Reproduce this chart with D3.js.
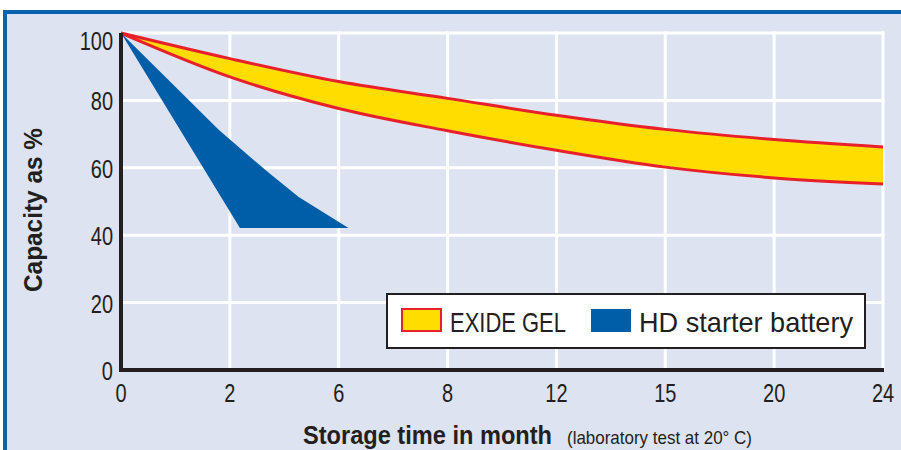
<!DOCTYPE html>
<html>
<head>
<meta charset="utf-8">
<script src="https://cdn.jsdelivr.net/npm/d3@7"></script>
<style>
  body { margin: 0; background: #fff; }
  text { font-family: "Liberation Sans", Arial, sans-serif; fill: #231f20; }
</style>
</head>
<body>
<script>
// x tick labels (months), evenly spaced on the chart
const monthTicks = [0, 2, 6, 8, 12, 15, 20, 24];
const capTicks = [0, 20, 40, 60, 80, 100];

// EXIDE GEL band: upper and lower edge (month, capacity %)
const gelMonths = [0, 2, 6, 8, 12, 15, 20, 24];
const gelUpper = [100, 92.4, 85.6, 80.6, 75.6, 71.4, 68.4, 66.2];
const gelLower = [100, 87, 77.6, 71, 65.2, 60.2, 57, 55.2];

// HD starter battery wedge, outline points (month, capacity %)
const hdMonths = [0, 2, 2.37, 6.18, 4.53, 3.43, 1.8, 0];
const hdValues = [100, 47, 42.1, 42.1, 51.3, 58.5, 71.2, 100];

const legendNames = ["EXIDE GEL", "HD starter battery"];

const width = 901, height = 450;
const plotL = 121, plotR = 883, plotT = 33, plotB = 370;
const narrow = 0.8;   // condensed look for the labels

const svg = d3.select("body").append("svg")
    .attr("width", width)
    .attr("height", height);

// background + blue frame
svg.append("rect")
    .attr("x", 5).attr("y", 12)
    .attr("width", width).attr("height", height)
    .attr("fill", "#dde3f0")
    .attr("stroke", "#0862ad")
    .attr("stroke-width", 4);

const step = (plotR - plotL) / (monthTicks.length - 1);
const x = d3.scaleLinear()
    .domain(monthTicks)
    .range(monthTicks.map((d, i) => plotL + i * step));

const y = d3.scaleLinear()
    .domain([0, 100])
    .range([plotB, plotT]);

// grid
svg.append("g")
    .selectAll("line")
    .data(monthTicks.slice(1))
    .join("line")
    .attr("x1", d => x(d)).attr("x2", d => x(d))
    .attr("y1", plotT - 1.5).attr("y2", plotB)
    .attr("stroke", "#fff")
    .attr("stroke-width", 3);

svg.append("g")
    .selectAll("line")
    .data(capTicks.slice(1))
    .join("line")
    .attr("x1", plotL).attr("x2", plotR + 1.5)
    .attr("y1", d => y(d)).attr("y2", d => y(d))
    .attr("stroke", "#fff")
    .attr("stroke-width", 3);

// EXIDE GEL band
const gel = gelMonths.map((m, i) => ({ m: m, hi: gelUpper[i], lo: gelLower[i] }));

svg.append("path")
    .datum(gel)
    .attr("fill", "#ffdd00")
    .attr("d", d3.area()
        .x(d => x(d.m))
        .y0(d => y(d.lo))
        .y1(d => y(d.hi))
        .curve(d3.curveMonotoneX));

const edge = d3.line().curve(d3.curveMonotoneX);
svg.append("path")
    .datum(gel)
    .attr("fill", "none")
    .attr("stroke", "#e8202a")
    .attr("stroke-width", 3)
    .attr("d", edge.x(d => x(d.m)).y(d => y(d.hi)));

svg.append("path")
    .datum(gel)
    .attr("fill", "none")
    .attr("stroke", "#e8202a")
    .attr("stroke-width", 3)
    .attr("d", edge.x(d => x(d.m)).y(d => y(d.lo)));

// HD starter battery wedge
svg.append("path")
    .datum(hdMonths.map((m, i) => [m, hdValues[i]]))
    .attr("fill", "#005ea8")
    .attr("d", d3.line()
        .x(d => x(d[0]))
        .y(d => y(d[1]))
        .curve(d3.curveLinearClosed));

// axes
svg.append("line")
    .attr("x1", plotL).attr("x2", plotL)
    .attr("y1", plotT).attr("y2", plotB + 2)
    .attr("stroke", "#231f20")
    .attr("stroke-width", 4);

svg.append("line")
    .attr("x1", plotL - 2).attr("x2", plotR + 1)
    .attr("y1", plotB).attr("y2", plotB)
    .attr("stroke", "#231f20")
    .attr("stroke-width", 4);

svg.append("g")
    .selectAll("text")
    .data(capTicks)
    .join("text")
    .attr("transform", d => `translate(${plotL - 8},${Math.max(y(d) + 10, plotT + 17)}) scale(${narrow},1)`)
    .attr("text-anchor", "end")
    .attr("font-size", 25)
    .text(d => d);

svg.append("g")
    .selectAll("text")
    .data(monthTicks)
    .join("text")
    .attr("transform", d => `translate(${x(d)},402) scale(${narrow},1)`)
    .attr("text-anchor", "middle")
    .attr("font-size", 25)
    .text(d => d);

// titles
svg.append("text")
    .attr("transform", "translate(42,210) rotate(-90)")
    .attr("text-anchor", "middle")
    .attr("font-size", 26)
    .attr("font-weight", "bold")
    .attr("textLength", 164)
    .attr("lengthAdjust", "spacingAndGlyphs")
    .text("Capacity as %");

svg.append("text")
    .attr("x", 303)
    .attr("y", 444)
    .attr("font-size", 26)
    .attr("font-weight", "bold")
    .attr("textLength", 249)
    .attr("lengthAdjust", "spacingAndGlyphs")
    .text("Storage time in month");

svg.append("text")
    .attr("x", 567)
    .attr("y", 444)
    .attr("font-size", 19)
    .attr("textLength", 185)
    .attr("lengthAdjust", "spacingAndGlyphs")
    .text("(laboratory test at 20° C)");

// legend
const lg = svg.append("g");
lg.append("rect")
    .attr("x", 387).attr("y", 294)
    .attr("width", 478).attr("height", 54)
    .attr("fill", "#fff")
    .attr("stroke", "#231f20")
    .attr("stroke-width", 2);

lg.append("rect")
    .attr("x", 402).attr("y", 309)
    .attr("width", 39).attr("height", 22)
    .attr("fill", "#ffdd00")
    .attr("stroke", "#e8202a")
    .attr("stroke-width", 2);

lg.append("rect")
    .attr("x", 591).attr("y", 309)
    .attr("width", 40).attr("height", 23)
    .attr("fill", "#005ea8");

lg.selectAll("text.lab")
    .data(legendNames)
    .join("text")
    .attr("class", "lab")
    .attr("x", (d, i) => i === 0 ? 450 : 639)
    .attr("y", 332)
    .attr("font-size", 28)
    .attr("textLength", (d, i) => i === 0 ? 116 : 214)
    .attr("lengthAdjust", "spacingAndGlyphs")
    .text(d => d);
</script>
</body>
</html>
